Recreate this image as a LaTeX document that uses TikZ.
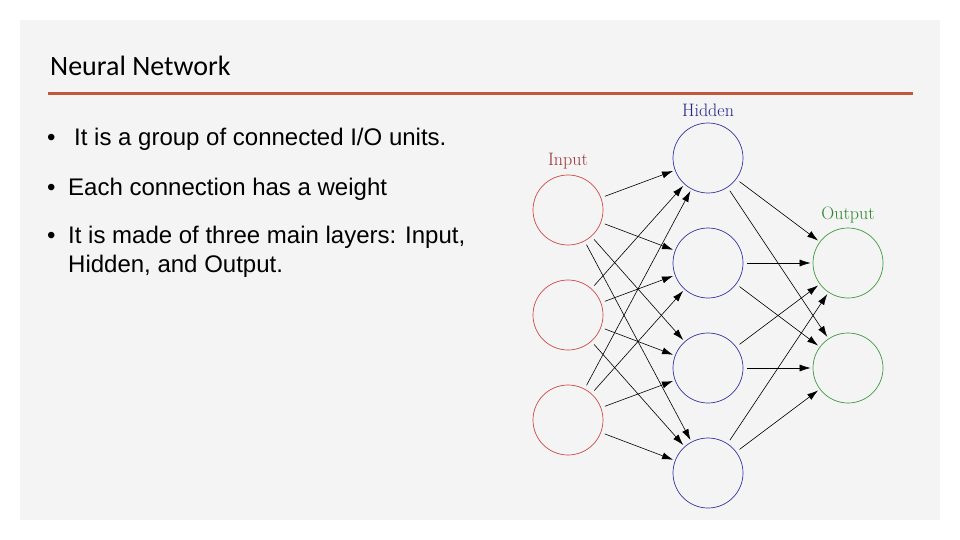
\documentclass[tikz,border=0pt]{standalone}
\usepackage{fontspec}
\setmainfont{Liberation Sans}
\newfontfamily\titlefont{Carlito}
\usepackage{tikz}
\usetikzlibrary{arrows.meta}
\definecolor{cSlide}{HTML}{F4F4F4}
\definecolor{cRule}{HTML}{C0583E}
\definecolor{cIn}{HTML}{D04848}
\definecolor{cInLab}{HTML}{9C3434}
\definecolor{cHid}{HTML}{3434A4}
\definecolor{cHidLab}{HTML}{24248A}
\definecolor{cOut}{HTML}{3C9C3C}
\definecolor{cOutLab}{HTML}{2A862A}

\begin{document}
\begin{tikzpicture}[
  x=1pt, y=-1pt,
  >={Latex[length=11pt, width=7pt]},
  unit/.style   = {circle, draw, line width=0.7pt, minimum size=70pt, inner sep=0pt},
  inunit/.style = {unit, draw=cIn},
  hidunit/.style= {unit, draw=cHid},
  outunit/.style= {unit, draw=cOut},
  layer/.style  = {font=\fontspec{Latin Modern Roman}\fontsize{18}{21}\selectfont, anchor=base, inner sep=0pt},
  bullet/.style = {font=\fontsize{24}{28}\selectfont, anchor=base west, inner sep=0pt},
  arr/.style    = {->, line width=0.6pt, shorten <=4pt, shorten >=2pt}]

\useasboundingbox (0,0) rectangle (960,540);
\fill[cSlide] (20,20) rectangle (940,520);

% ---- title and rule --------------------------------------------------------
\node[anchor=base west, inner sep=0pt, font=\titlefont\fontsize{28}{32}\selectfont]
  (title) at (50,76) {Neural Network};
\draw[cRule, line width=3pt] (48,94) coordinate (ruleL) -- (913,94) coordinate (ruleR);

% ---- bullet list -----------------------------------------------------------
\node[bullet] (b1)  at (47,146) {\textbullet};
\node[bullet] (t1)  at (74,146) {It is a group of connected I/O units.};
\node[bullet] (b2)  at (47,195) {\textbullet};
\node[bullet] (t2)  at (68,195) {Each connection has a weight};
\node[bullet] (b3)  at (47,243) {\textbullet};
\node[bullet] (t3)  at (68,243) {It is made of three main layers: Input,};
\node[bullet] (t3b) at (68,272) {Hidden, and Output.};

% ---- network: three layers -------------------------------------------------
\node[inunit] (in1) at (568,210) {};
\node[inunit] (in2) at (568,315) {};
\node[inunit] (in3) at (568,420) {};

\node[hidunit] (hid1) at (708,158) {};
\node[hidunit] (hid2) at (708,263) {};
\node[hidunit] (hid3) at (708,368) {};
\node[hidunit] (hid4) at (708,473) {};

\node[outunit] (out1) at (848,263) {};
\node[outunit] (out2) at (848,368) {};

\node[layer, text=cInLab]  (inlab)  at (568,165) {Input};
\node[layer, text=cHidLab] (hidlab) at (708,117) {Hidden};
\node[layer, text=cOutLab] (outlab) at (848,219) {Output};

% every input feeds every hidden unit, every hidden unit every output
\foreach \i in {1,2,3}
  \foreach \h in {1,2,3,4}
    \draw[arr] (in\i) -- (hid\h);
\foreach \h in {1,2,3,4}
  \foreach \o in {1,2}
    \draw[arr] (hid\h) -- (out\o);

\end{tikzpicture}
\end{document}
